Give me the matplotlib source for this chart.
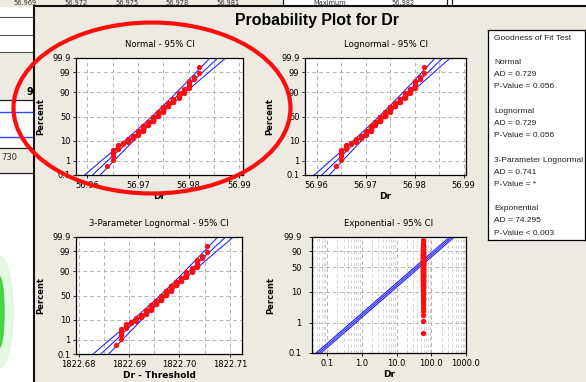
import matplotlib
matplotlib.use('Agg')
import matplotlib.pyplot as plt
from matplotlib.patches import Rectangle, Ellipse
from matplotlib.ticker import FixedLocator, NullLocator, MultipleLocator, LogLocator, NullFormatter
import numpy as np
from statistics import NormalDist

dr_values = [56.964, 56.965, 56.966, 56.967, 56.968, 56.969, 56.970, 56.971, 56.972, 56.973,
             56.974, 56.975, 56.976, 56.977, 56.978, 56.979, 56.980, 56.981, 56.982]
dr_counts = [1, 5, 4, 3, 5, 6, 9, 15, 11, 16, 15, 15, 11, 9, 9, 6, 6, 2, 2]
threshold = -1765.7234   # 3-parameter lognormal threshold

pct_ticks = [0.1, 1, 10, 50, 90, 99, 99.9]
pct_labels = ['0.1', '1', '10', '50', '90', '99', '99.9']
exp_pct_ticks = [0.1, 1, 10, 50, 90, 99.9]
exp_pct_labels = ['0.1', '1', '10', '50', '90', '99.9']
dr_ticks = [56.96, 56.97, 56.98, 56.99]
thr_ticks = [1822.68, 1822.69, 1822.70, 1822.71]
exp_x_ticks = [0.1, 1, 10, 100, 1000]
exp_x_labels = ['0.1', '1.0', '10.0', '100.0', '1000.0']

gof_lines = ['Goodness of Fit Test', '',
             'Normal', 'AD = 0.729', 'P-Value = 0.056', '',
             'Lognormal', 'AD = 0.729', 'P-Value = 0.056', '',
             '3-Parameter Lognormal', 'AD = 0.741', 'P-Value = *', '',
             'Exponential', 'AD = 74.295', 'P-Value < 0.003']

# bits of the window behind (mostly hidden)
behind_top = ['56.969', '56.972', '56.975', '56.978', '56.981']

W, H = 586, 382
BEIGE = '#edeae2'
RED = '#ff0d0d'
BLUE = '#1c1cff'
GRID = '#b4b4b4'

plt.rcParams['font.family'] = ['DejaVu Sans']

fig = plt.figure(figsize=(W / 100, H / 100), dpi=100)


def px_axes(x0, y0, x1, y1, **kw):
    return fig.add_axes([x0 / W, 1 - y1 / H, (x1 - x0) / W, (y1 - y0) / H], **kw)


nd = NormalDist()
_ppf = np.vectorize(nd.inv_cdf, otypes=[float])
_cdf = np.vectorize(nd.cdf, otypes=[float])


def prob_fwd(p):
    p = np.clip(np.asarray(p, float) / 100.0, 1e-12, 1 - 1e-12)
    return _ppf(p)


def prob_inv(z):
    return _cdf(np.asarray(z, float)) * 100.0


def weib_fwd(p):
    p = np.clip(np.asarray(p, float) / 100.0, 1e-12, 1 - 1e-12)
    return np.log(-np.log(1 - p))


def weib_inv(t):
    return 100.0 * (1 - np.exp(-np.exp(np.asarray(t, float))))


dr = np.repeat(dr_values, dr_counts)
n = len(dr)
ranks = np.arange(1, n + 1)
pct = (ranks - 0.3) / (n + 0.4) * 100

# ---------------- background (pixel coords) ----------------
bg = fig.add_axes([0, 0, 1, 1], zorder=-5)
bg.set_xlim(0, W)
bg.set_ylim(H, 0)
bg.axis('off')
bg.add_patch(Rectangle((0, 0), W, H, color='white', zorder=0))
bg.add_patch(Rectangle((0, 0), 283, 6, color=BEIGE, zorder=1))
for i, s in enumerate(behind_top):
    bg.text(25 + 50.8 * i, 3, s, fontsize=4.8, ha='center', va='center', color='#333333', zorder=2)
bg.text(330, 3, 'Maximum', fontsize=4.8, ha='center', va='center', color='#333333', zorder=2)
bg.text(403, 3, '56.982', fontsize=4.8, ha='center', va='center', color='#333333', zorder=2)
for xv in (283, 447, 452):
    bg.plot([xv, xv], [0, 6], color='#222222', lw=0.9, zorder=2)
for yv in (17, 35, 52):
    bg.plot([0, 34], [yv, yv], color='#555555', lw=0.8, zorder=2)
bg.add_patch(Rectangle((0, 52), 34, 48, color=BEIGE, zorder=1))
bg.text(26.5, 92, '9', fontsize=7, fontweight='bold', ha='left', va='center', zorder=2)
bg.plot([0, 34], [100, 100], color='#222222', lw=0.9, zorder=2)
bg.plot([0, 34], [148, 148], color='#222222', lw=0.9, zorder=2)
bg.plot([0, 34], [112, 112], color='#2a46ff', lw=1.0, zorder=2)
bg.plot([0, 34], [137, 137], color='#2a46ff', lw=1.0, zorder=2)
bg.add_patch(Rectangle((0, 148), 34, 25, color=BEIGE, zorder=1))
bg.text(1, 158, '730', fontsize=6, ha='left', va='center', color='#333333', zorder=2)
bg.plot([0, 34], [173, 173], color='#222222', lw=0.9, zorder=2)
bg.add_patch(Ellipse((0, 312), 26, 110, color='#d8f5d8', alpha=0.7, zorder=1))
bg.add_patch(Ellipse((-1, 312), 10, 72, color='#3ccf3c', alpha=0.9, zorder=1))
# minitab graph window
bg.add_patch(Rectangle((33.5, 6), W, H, facecolor=BEIGE, edgecolor='#111111', lw=1.5, zorder=4))
bg.text(317, 21, 'Probability Plot for Dr', fontsize=11.4, fontweight='bold',
        family='Liberation Sans', ha='center', va='center', zorder=5)


def setup(ax, title, xlabel, yscale, yticks, ylabels, ypad=1.5, ylpad=5):
    ax.set_yscale('function', functions=yscale)
    ax.set_ylim(0.1, 99.9)
    ax.yaxis.set_major_locator(FixedLocator(yticks))
    ax.set_yticklabels(ylabels)
    ax.yaxis.set_minor_locator(NullLocator())
    ax.set_title(title, fontsize=6.1, pad=8)
    ax.set_xlabel(xlabel, fontsize=6.5, fontweight='bold', labelpad=2)
    ax.set_ylabel('Percent', fontsize=6, fontweight='bold', labelpad=ylpad)
    ax.xaxis.grid(True, which='major', ls=(0, (4, 3)), color=GRID, lw=0.7)
    ax.xaxis.grid(True, which='minor', ls=(0, (4, 3)), color=GRID, lw=0.7)
    ax.yaxis.grid(True, which='major', ls=(0, (4, 3)), color=GRID, lw=0.7)
    ax.set_axisbelow(True)
    ax.tick_params(which='major', length=2.5, width=0.6, labelsize=6, pad=1.5)
    ax.tick_params(axis='y', pad=ypad)
    ax.tick_params(which='minor', length=0)
    for sp in ax.spines.values():
        sp.set_linewidth(0.9)


z = np.linspace(-3.8, 3.8, 300)
pz = prob_inv(z)
band = 1.96 * np.sqrt(1 / n + z ** 2 / (2 * n))

# ---------------- Normal ----------------
ax1 = px_axes(76, 58, 243, 175)
setup(ax1, 'Normal - 95% CI', 'Dr', (prob_fwd, prob_inv), pct_ticks, pct_labels)
mu, sd = dr.mean(), dr.std()
for k in (-1, 0, 1):
    ax1.plot(mu + z * sd + k * band * sd, pz, color=BLUE, lw=0.75)
ax1.plot(dr, pct, 'o', color=RED, ms=3.8, mew=0)
ax1.set_xlim(56.9578, 56.9907)
ax1.xaxis.set_major_locator(FixedLocator(dr_ticks))
ax1.set_xticklabels(['%.2f' % v for v in dr_ticks])
ax1.xaxis.set_minor_locator(MultipleLocator(0.005))

# ---------------- Lognormal ----------------
ax2 = px_axes(305, 58, 466, 175)
setup(ax2, 'Lognormal - 95% CI', 'Dr', (prob_fwd, prob_inv), pct_ticks, pct_labels)
lmu, lsd = np.log(dr).mean(), np.log(dr).std()
for k in (-1, 0, 1):
    ax2.plot(np.exp(lmu + z * lsd + k * band * lsd), pz, color=BLUE, lw=0.75)
ax2.plot(dr, pct, 'o', color=RED, ms=3.8, mew=0)
ax2.set_xlim(56.9576, 56.9905)
ax2.xaxis.set_major_locator(FixedLocator(dr_ticks))
ax2.set_xticklabels(['%.2f' % v for v in dr_ticks])
ax2.xaxis.set_minor_locator(MultipleLocator(0.005))

# ---------------- 3-parameter lognormal ----------------
ax3 = px_axes(76, 237, 242, 354)
setup(ax3, '3-Parameter Lognormal - 95% CI', 'Dr - Threshold', (prob_fwd, prob_inv),
      pct_ticks, pct_labels)
shifted = dr - threshold
tmu, tsd = np.log(shifted).mean(), np.log(shifted).std()
for k in (-1, 0, 1):
    ax3.plot(np.exp(tmu + z * tsd + k * band * tsd), pz, color=BLUE, lw=0.75)
ax3.plot(shifted, pct, 'o', color=RED, ms=3.8, mew=0)
ax3.set_xlim(1822.6795, 1822.7124)
ax3.xaxis.set_major_locator(FixedLocator(thr_ticks))
ax3.set_xticklabels(['%.2f' % v for v in thr_ticks])
ax3.xaxis.set_minor_locator(MultipleLocator(0.005))

# ---------------- Exponential ----------------
ax4 = px_axes(312, 237, 466, 353)
setup(ax4, 'Exponential - 95% CI', 'Dr', (weib_fwd, weib_inv), exp_pct_ticks, exp_pct_labels,
      ypad=5, ylpad=6)
ax4.set_xscale('log')
ax4.xaxis.grid(True, which='minor', ls=(0, (4, 3)), color='#cdcdcd', lw=0.6)
theta = dr.mean()
t = np.linspace(-8, 2.6, 200)
pt = weib_inv(t)
xe = theta * np.exp(t)
for f in (np.exp(-1.96 / np.sqrt(n)), 1.0, np.exp(1.96 / np.sqrt(n))):
    ax4.plot(xe * f, pt, color=BLUE, lw=0.8)
ax4.plot(dr, pct, 'o', color=RED, ms=3.8, mew=0)
ax4.set_xlim(0.037, 1000)
ax4.xaxis.set_major_locator(FixedLocator(exp_x_ticks))
ax4.set_xticklabels(exp_x_labels)
ax4.xaxis.set_minor_locator(LogLocator(base=10, subs=np.arange(2, 10)))
ax4.xaxis.set_minor_formatter(NullFormatter())

# ---------------- goodness of fit box ----------------
gof = px_axes(488, 30, 585, 240)
gof.set_xlim(488, 585)
gof.set_ylim(240, 30)
gof.set_xticks([])
gof.set_yticks([])
for sp in gof.spines.values():
    sp.set_linewidth(0.9)
for i, s in enumerate(gof_lines):
    if s:
        gof.text(494, 38 + 12.2 * i, s, fontsize=6, family='Liberation Sans',
                 ha='left', va='center', color='#222222')

# ---------------- red highlight ellipse ----------------
ov = fig.add_axes([0, 0, 1, 1], zorder=20)
ov.set_xlim(0, W)
ov.set_ylim(H, 0)
ov.axis('off')
ov.patch.set_alpha(0)
ov.add_patch(Ellipse((152, 108), 277, 171, fill=False, ec=RED, lw=3))

fig.savefig('out.png', dpi=100)
